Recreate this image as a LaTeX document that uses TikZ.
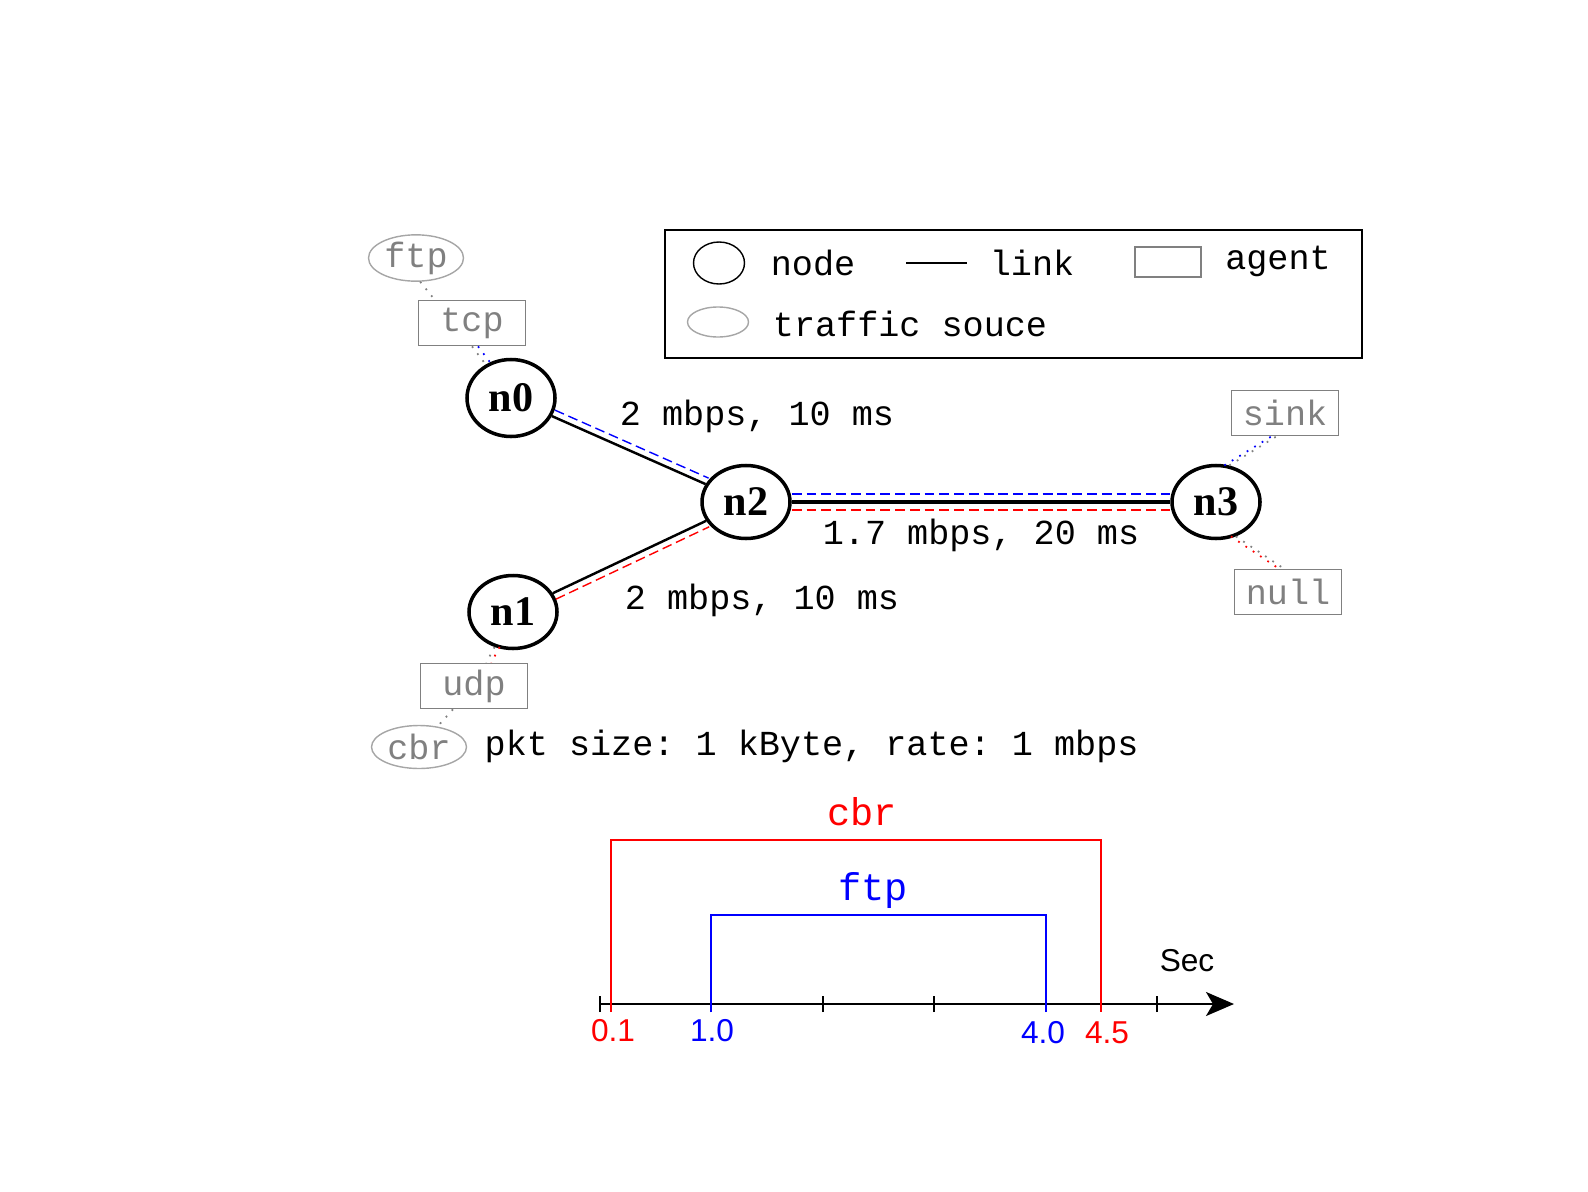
\documentclass[tikz,border=0pt]{standalone}
\usepackage{fontspec}
\setmainfont{Liberation Serif}
\setsansfont{Liberation Sans}
\setmonofont{Liberation Mono}
\usetikzlibrary{shapes.geometric,arrows.meta}

\begin{document}
\begin{tikzpicture}[scale=1,
	netnode/.style={draw, ellipse, line width=1pt, minimum width=0.88cm, minimum height=0.73cm, inner sep=0pt, font=\fontsize{12}{14}\selectfont\bfseries},
	agentbox/.style={draw=gray, text=gray, line width=0.5pt, minimum width=1.07cm, minimum height=0.45cm, inner sep=0pt, font=\ttfamily},
	trafficsrc/.style={draw=gray!70, text=gray, ellipse, line width=0.4pt, minimum width=0.95cm, minimum height=0.43cm, inner sep=0pt, font=\ttfamily},
	netlink/.style={line width=0.7pt},
	flowline/.style={line width=0.4pt, dash pattern=on 2.8pt off 1.4pt},
	agentlink/.style={line width=0.5pt, dotted},
	txt/.style={font=\ttfamily, inner sep=0pt}]

	\useasboundingbox (0,0) rectangle (15.88,11.91);

	% legend
	\draw[line width=0.6pt] (6.65,8.33) rectangle (13.62,9.61);
	\node[draw, ellipse, line width=0.4pt, minimum width=0.51cm, minimum height=0.42cm, inner sep=0pt] (lgnode) at (7.19,9.28) {};
	\node[txt] (lgnodetxt) at (8.13,9.28) {node};
	\coordinate (lglinea) at (9.06,9.28);
	\coordinate (lglineb) at (9.67,9.28);
	\draw[line width=0.4pt] (lglinea) -- (lglineb);
	\node[txt] (lglinktxt) at (10.32,9.28) {link};
	\node[draw=gray, line width=0.4pt, minimum width=0.66cm, minimum height=0.30cm, inner sep=0pt] (lgagent) at (11.68,9.29) {};
	\node[txt] (lgagenttxt) at (12.78,9.30) {agent};
	\node[draw=gray!70, ellipse, line width=0.4pt, minimum width=0.61cm, minimum height=0.30cm, inner sep=0pt] (lgsrc) at (7.18,8.69) {};
	\node[txt] (lgsrctxt) at (9.10,8.67) {traffic souce};

	% nodes and agents
	\node[trafficsrc] (ftp) at (4.16,9.33) {ftp};
	\node[agentbox] (tcp) at (4.72,8.68) {tcp};
	\node[netnode, minimum height=0.77cm] (n0) at (5.11,7.93) {n0};
	\node[netnode] (n2) at (7.46,6.89) {n2};
	\node[netnode] (n3) at (12.16,6.89) {n3};
	\node[netnode] (n1) at (5.13,5.79) {n1};
	\node[agentbox] (udp) at (4.74,5.05) {udp};
	\node[trafficsrc] (cbr) at (4.19,4.44) {cbr};
	\node[agentbox] (sink) at (12.85,7.78) {sink};
	\node[agentbox] (null) at (12.88,5.99) {null};

	% links
	\draw[netlink] (n0) -- (n2);
	\draw[netlink] (n1) -- (n2);
	\draw[line width=1.2pt] (n2) -- (n3);
	\draw[flowline, blue, transform canvas={xshift=0.03cm, yshift=0.06cm}] (n0) -- (n2);
	\draw[flowline, red, transform canvas={xshift=0.03cm, yshift=-0.06cm}] (n1) -- (n2);
	\draw[flowline, blue, transform canvas={yshift=0.08cm}] (n2) -- (n3);
	\draw[flowline, red, transform canvas={yshift=-0.08cm}] (n2) -- (n3);

	% agent attachments
	\draw[agentlink, gray] (ftp.280) -- (tcp.148);
	\draw[agentlink, gray] (tcp.south) -- (n0);
	\draw[agentlink, blue, transform canvas={xshift=0.06cm}] (tcp.south) -- (n0);
	\draw[agentlink, gray] (n3.70) -- (sink.250);
	\draw[agentlink, blue, transform canvas={xshift=-0.05cm}] (n3.70) -- (sink.250);
	\draw[agentlink, gray] (n3.-60) -- (null.100);
	\draw[agentlink, red, transform canvas={xshift=-0.05cm}] (n3.-60) -- (null.100);
	\draw[agentlink, gray] (n1) -- (udp);
	\draw[agentlink, red, transform canvas={xshift=0.05cm}] (n1) -- (udp);
	\draw[agentlink, gray] (udp) -- (cbr);

	% link labels
	\node[txt] (l02) at (7.57,7.75) {2 mbps, 10 ms};
	\node[txt] (l23) at (9.81,6.56) {1.7 mbps, 20 ms};
	\node[txt] (l12) at (7.62,5.91) {2 mbps, 10 ms};
	\node[txt, anchor=west] (pkt) at (4.84,4.45) {pkt size: 1 kByte, rate: 1 mbps};

	% time line
	\draw[line width=0.5pt, ->, >={Stealth[length=0.28cm,width=0.24cm,inset=0.07cm]}] (6.00,1.87) -- (12.34,1.87);
	\draw[line width=0.5pt] (6.00,1.79) -- (6.00,1.95);
	\draw[line width=0.5pt] (7.11,1.79) -- (7.11,1.95);
	\draw[line width=0.5pt] (8.23,1.79) -- (8.23,1.95);
	\draw[line width=0.5pt] (9.34,1.79) -- (9.34,1.95);
	\draw[line width=0.5pt] (10.46,1.79) -- (10.46,1.95);
	\draw[line width=0.5pt] (11.57,1.79) -- (11.57,1.95);

	\draw[red, line width=0.5pt] (6.11,1.79) -- (6.11,3.51) -- (11.01,3.51) -- (11.01,1.79);
	\draw[blue, line width=0.5pt] (7.11,1.79) -- (7.11,2.76) -- (10.46,2.76) -- (10.46,1.79);

	\node[red, font=\fontsize{11}{13}\selectfont\ttfamily] (cbrlab) at (8.62,3.79) {cbr};
	\node[blue, font=\fontsize{11}{13}\selectfont\ttfamily] (ftplab) at (8.73,3.01) {ftp};
	\node[font=\fontsize{9}{11}\selectfont\sffamily] (sec) at (11.87,2.30) {Sec};

	\node[red, font=\fontsize{9}{11}\selectfont\sffamily] (t01) at (6.13,1.60) {0.1};
	\node[blue, font=\fontsize{9}{11}\selectfont\sffamily] (t10) at (7.12,1.60) {1.0};
	\node[blue, font=\fontsize{9}{11}\selectfont\sffamily] (t40) at (10.43,1.58) {4.0};
	\node[red, font=\fontsize{9}{11}\selectfont\sffamily] (t45) at (11.07,1.58) {4.5};

\end{tikzpicture}
\end{document}
